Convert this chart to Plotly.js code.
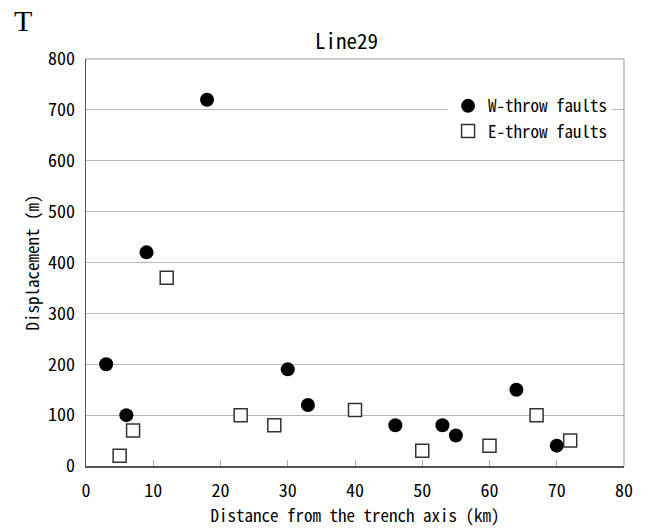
<!DOCTYPE html>
<html>
<head>
<meta charset="utf-8">
<script src="https://cdn.plot.ly/plotly-3.0.1.min.js"></script>
<style>html,body{margin:0;padding:0;background:#fff;}#chart{width:648px;height:532px;}</style>
</head>
<body>
<div id="chart"></div>
<script>
var wX = [3, 6, 9, 18, 30, 33, 46, 53, 55, 64, 70];
var wY = [200, 100, 420, 720, 190, 120, 80, 80, 60, 150, 40];
var eX = [5, 7, 12, 23, 28, 40, 50, 60, 67, 72];
var eY = [20, 70, 370, 100, 80, 110, 30, 40, 100, 50];
var xTicks = [0, 10, 20, 30, 40, 50, 60, 70, 80];
var yTicks = [0, 100, 200, 300, 400, 500, 600, 700, 800];

var FONT = "'Noto Sans Mono CJK JP', 'DejaVu Sans Mono', monospace";

var traces = [
  {x: wX, y: wY, type: 'scatter', mode: 'markers', name: 'W-throw faults',
   marker: {symbol: 'circle', size: 14, color: '#000000', line: {width: 0}}},
  {x: eX, y: eY, type: 'scatter', mode: 'markers', name: 'E-throw faults',
   marker: {symbol: 'square', size: 13, color: '#ffffff', line: {width: 1.5, color: '#333333'}}}
];

var layout = {
  width: 648, height: 532,
  margin: {l: 86, r: 24, t: 59, b: 66},
  paper_bgcolor: '#ffffff', plot_bgcolor: '#ffffff',
  font: {family: FONT, color: '#000', size: 17},
  showlegend: true,
  legend: {x: 0.673, y: 0.928, xanchor: 'left', yanchor: 'top', bgcolor: '#ffffff',
           font: {family: FONT, size: 17, color: '#000'}, itemwidth: 30, tracegroupgap: 0},
  xaxis: {range: [0, 80], tickvals: xTicks, ticktext: xTicks.map(String),
          showgrid: false, zeroline: false, showline: true, linecolor: '#555', linewidth: 1.5,
          mirror: false, ticks: 'inside', ticklen: 6, tickcolor: '#aaa', tickwidth: 1,
          tickfont: {family: FONT, size: 18}, ticklabelstandoff: 8,
          title: {text: 'Distance from the trench axis (km)', font: {family: FONT, size: 17}, standoff: 9}},
  yaxis: {range: [0, 800], tickvals: yTicks, ticktext: yTicks.map(String),
          showgrid: true, gridcolor: '#b8b8b8', gridwidth: 1, zeroline: false,
          showline: true, linecolor: '#555', linewidth: 1.5, ticks: '',
          tickfont: {family: FONT, size: 18}, ticklabelstandoff: 6,
          title: {text: 'Displacement (m)', font: {family: FONT, size: 17}, standoff: 4}},
  shapes: [
    {type: 'line', xref: 'paper', yref: 'paper', x0: 0, x1: 1, y0: 1, y1: 1, line: {color: '#999', width: 1}},
    {type: 'line', xref: 'paper', yref: 'paper', x0: 1, x1: 1, y0: 0, y1: 1, line: {color: '#999', width: 1}}
  ],
  annotations: [
    {text: 'Line29', xref: 'paper', yref: 'paper', x: 0.485, y: 1, yshift: 19, showarrow: false,
     xanchor: 'center', yanchor: 'middle', font: {family: FONT, size: 21, color: '#000'}},
    {text: 'T', xref: 'paper', yref: 'paper', x: -0.137, y: 1, yshift: 39, xanchor: 'left', yanchor: 'middle',
     showarrow: false, font: {family: "'Liberation Serif', 'Times New Roman', serif", size: 30, color: '#000'}}
  ]
};

Plotly.newPlot('chart', traces, layout, {displayModeBar: false, staticPlot: true});
</script>
</body>
</html>
